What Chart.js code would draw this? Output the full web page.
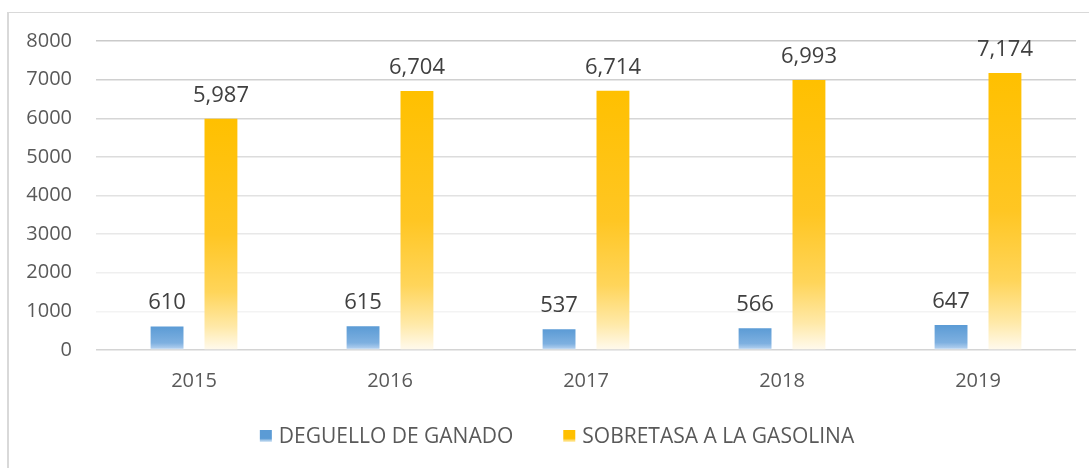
<!DOCTYPE html>
<html>
<head>
<meta charset="utf-8">
<script src="https://cdn.jsdelivr.net/npm/chart.js@4.4.1/dist/chart.umd.min.js"></script>
<style>
  html, body { margin: 0; padding: 0; background: #fff; }
  #wrap { position: relative; width: 1089px; height: 468px; }
  #frame {
    position: absolute; left: 7px; top: 12px; right: 0; bottom: 0;
    border-left: 2px solid #d9d9d9; border-top: 1px solid #d9d9d9;
  }
  #chart { position: absolute; left: 0; top: 0; }
</style>
</head>
<body>
<div id="wrap">
  <div id="frame"></div>
  <canvas id="chart" width="1089" height="468"></canvas>
</div>
<script>
// Data
const years = ["2015", "2016", "2017", "2018", "2019"];
const deguello = [610, 615, 537, 566, 647];
const sobretasa = [5987, 6704, 6714, 6993, 7174];
const seriesNames = ["DEGUELLO DE GANADO", "SOBRETASA A LA GASOLINA"];
const yTicks = [0, 1000, 2000, 3000, 4000, 5000, 6000, 7000, 8000];

const FONT = "'Open Sans', 'Noto Sans', sans-serif";
const swatch = ["#5b9bd5", "#ffc000"];

// gradient from bar top to axis base
function barGradient(stops) {
  return (context) => {
    const chart = context.chart;
    if (!chart.chartArea || context.raw === undefined) return stops[0][1];
    const yScale = chart.scales.y;
    const top = yScale.getPixelForValue(context.raw);
    const bottom = yScale.getPixelForValue(0);
    const g = chart.ctx.createLinearGradient(0, top, 0, bottom);
    stops.forEach(s => g.addColorStop(s[0], s[1]));
    return g;
  };
}

const blueStops = [[0, "#5b9bd5"], [0.7, "#7eb0e0"], [0.9, "#a9caec"], [1, "#eef5fc"]];
const goldStops = [[0, "#ffc000"], [0.5, "#ffc623"], [0.75, "#ffd55a"], [0.9, "#ffe9a8"], [1, "#fffaee"]];

// grid lines fade out towards the bottom
const gridColors = ["#d4d4d4", "#f3f3f3", "#efefef", "#e8e8e8", "#e2e2e2", "#dcdcdc", "#d6d6d6", "#d0d0d0", "#cacaca"];

// value labels above bars
const valueLabels = {
  id: "valueLabels",
  afterDatasetsDraw(chart) {
    const ctx = chart.ctx;
    ctx.save();
    ctx.font = "22px " + FONT;
    ctx.fillStyle = "#404040";
    ctx.textAlign = "center";
    ctx.textBaseline = "alphabetic";
    chart.data.datasets.forEach((ds, i) => {
      chart.getDatasetMeta(i).data.forEach((bar, j) => {
        ctx.fillText(ds.data[j].toLocaleString("en-US"), bar.x, bar.y - 17);
      });
    });
    ctx.restore();
  }
};

// legend under the axis, centred
const bottomLegend = {
  id: "bottomLegend",
  afterDraw(chart) {
    const ctx = chart.ctx;
    ctx.save();
    ctx.font = "21px " + FONT;
    ctx.textBaseline = "middle";
    ctx.textAlign = "left";
    const box = 12, gap = 7, spacing = 50;
    const widths = chart.data.datasets.map(ds => box + gap + ctx.measureText(ds.label).width);
    const total = widths.reduce((a, b) => a + b, 0) + spacing * (widths.length - 1);
    let x = 557 - total / 2;
    const y = 436;
    chart.data.datasets.forEach((ds, i) => {
      const g = ctx.createLinearGradient(0, y - box / 2, 0, y + box / 2);
      g.addColorStop(0, swatch[i]);
      g.addColorStop(0.7, swatch[i]);
      g.addColorStop(1, i === 0 ? "#dceaf7" : "#fff2c4");
      ctx.fillStyle = g;
      ctx.fillRect(x, y - box / 2, box, box);
      ctx.fillStyle = "#595959";
      ctx.fillText(ds.label, x + box + gap, y + 1);
      x += widths[i] + spacing;
    });
    ctx.restore();
  }
};

new Chart(document.getElementById("chart"), {
  type: "bar",
  data: {
    labels: years,
    datasets: [
      { label: seriesNames[0], data: deguello, backgroundColor: barGradient(blueStops) },
      { label: seriesNames[1], data: sobretasa, backgroundColor: barGradient(goldStops) }
    ]
  },
  options: {
    responsive: false,
    animation: false,
    categoryPercentage: 0.55,
    barPercentage: 0.61,
    layout: { padding: { top: 41, right: 13, bottom: 56, left: 0 } },
    scales: {
      x: {
        grid: { display: false, drawTicks: false },
        border: { display: false },
        ticks: { color: "#595959", font: { family: FONT, size: 20 }, padding: 19 }
      },
      y: {
        min: 0,
        max: 8000,
        afterBuildTicks: (scale) => { scale.ticks = yTicks.map(v => ({ value: v })); },
        grid: {
          drawTicks: false,
          lineWidth: 1.5,
          color: (c) => gridColors[c.index] || "#e0e0e0"
        },
        border: { display: false },
        ticks: {
          color: "#595959",
          font: { family: FONT, size: 20 },
          padding: 24,
          callback: (v) => String(v)
        },
        afterFit: (scale) => { scale.width = 96; }
      }
    },
    plugins: {
      tooltip: { enabled: false },
      legend: { display: false }
    }
  },
  plugins: [valueLabels, bottomLegend]
});
</script>
</body>
</html>
